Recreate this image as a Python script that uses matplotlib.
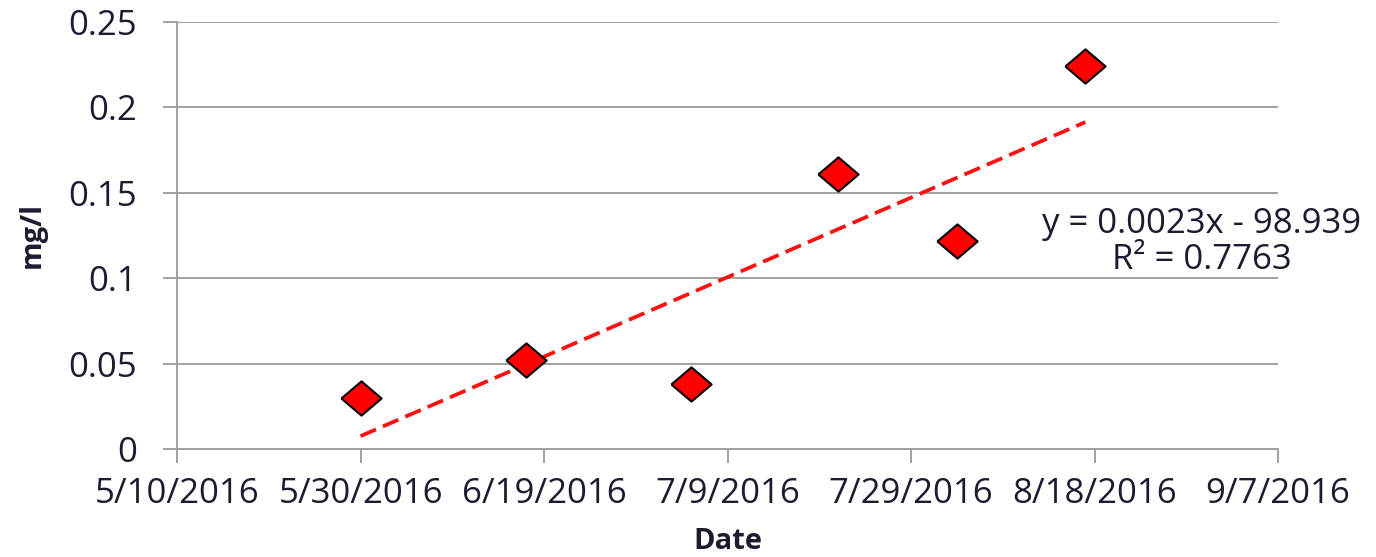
import datetime as dt
import numpy as np
import matplotlib
matplotlib.use("Agg")
import matplotlib.pyplot as plt
import matplotlib.dates as mdates
from matplotlib.ticker import FixedLocator, FuncFormatter

# sample dates and concentrations (mg/l)
dates = [dt.date(2016, 5, 30), dt.date(2016, 6, 17), dt.date(2016, 7, 5),
         dt.date(2016, 7, 21), dt.date(2016, 8, 3), dt.date(2016, 8, 17)]
values = [0.030, 0.052, 0.038, 0.161, 0.122, 0.224]

x_ticks = [dt.date(2016, 5, 10) + dt.timedelta(days=20 * i) for i in range(7)]
y_ticks = [0, 0.05, 0.1, 0.15, 0.2, 0.25]
y_labels = ["0", "0.05", "0.1", "0.15", "0.2", "0.25"]
eq_text = "y = 0.0023x - 98.939\nR² = 0.7763"

plt.rcParams["font.family"] = ["Open Sans", "DejaVu Sans"]
txt = "#1c1c30"
grid_c = "#a0a0a0"

x = mdates.date2num(dates)
xt = mdates.date2num(x_ticks)

fig = plt.figure(figsize=(13.76, 5.57), dpi=100)
ax = fig.add_axes([177 / 1376, 1 - 449 / 557, (1278 - 177) / 1376, (449 - 22) / 557])

# linear trend
coef = np.polyfit(x, values, 1)
ax.plot([x[0], x[-1]], np.polyval(coef, [x[0], x[-1]]), color="#ff1010",
        lw=2.7, ls=(0, (4.5, 2)), zorder=3)

diamond = [(-1, 0), (0, -0.85), (1, 0), (0, 0.85), (-1, 0)]
ax.plot(x, values, ls="none", marker=diamond, ms=29, mfc="#ff0000",
        mec="black", mew=1.5, zorder=4, clip_on=False)

ax.set_xlim(xt[0], xt[-1])
ax.set_ylim(0, 0.25)
ax.xaxis.set_major_locator(FixedLocator(xt))
ax.xaxis.set_major_formatter(FuncFormatter(
    lambda v, p: "{d.month}/{d.day}/{d.year}".format(d=mdates.num2date(v))))
ax.set_yticks(y_ticks)
ax.set_yticklabels(y_labels)

ax.grid(axis="y", color=grid_c, lw=1.4)
ax.set_axisbelow(True)
for s in ["top", "right"]:
    ax.spines[s].set_visible(False)
for s in ["left", "bottom"]:
    ax.spines[s].set_color(grid_c)
    ax.spines[s].set_linewidth(1.4)
ax.tick_params(axis="both", colors=grid_c, labelcolor=txt, labelsize=25,
               width=1.4, length=10)
ax.tick_params(axis="x", pad=10)
ax.tick_params(axis="y", pad=19)

ax.set_ylabel("mg/l", fontsize=21, fontweight="bold", color=txt)
ax.yaxis.set_label_coords(-0.118, 0.50)
ax.set_xlabel("Date", fontsize=21, fontweight="bold", color=txt)
ax.xaxis.set_label_coords(0.5, -0.182)

ax.text(0.931, 0.485, eq_text, transform=ax.transAxes, ha="center",
        va="center", multialignment="center", fontsize=25, color=txt,
        linespacing=1.05)

fig.savefig("out.png", dpi=100)
